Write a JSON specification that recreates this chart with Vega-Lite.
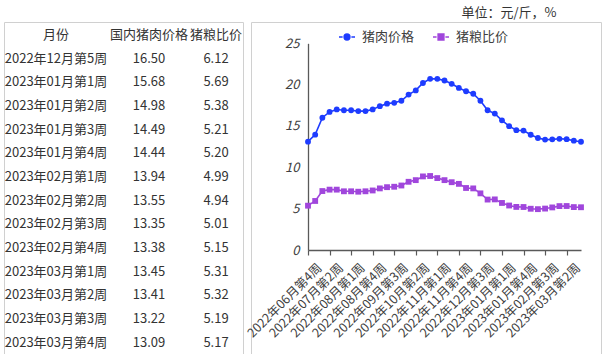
{
  "$schema": "https://vega.github.io/schema/vega-lite/v6.json",
  "padding": {"left": 3, "top": 5, "right": 2, "bottom": 0},
  "spacing": 8,
  "bounds": "flush",
  "background": "white",
  "config": {
    "view": {"stroke": "#d0d0d0", "strokeWidth": 1},
    "font": "Noto Sans CJK SC",
    "text": {"font": "Noto Sans CJK SC"}
  },
  "datasets": {
    "weekly": [
      {"周": "2022年06月第4周", "猪肉价格": 13.1, "猪粮比价": 5.36},
      {"周": "2022年06月第5周", "猪肉价格": 13.95, "猪粮比价": 5.93},
      {"周": "2022年07月第1周", "猪肉价格": 16.0, "猪粮比价": 7.13},
      {"周": "2022年07月第2周", "猪肉价格": 16.7, "猪粮比价": 7.3},
      {"周": "2022年07月第3周", "猪肉价格": 17.0, "猪粮比价": 7.3},
      {"周": "2022年07月第4周", "猪肉价格": 16.9, "猪粮比价": 7.1},
      {"周": "2022年08月第1周", "猪肉价格": 16.9, "猪粮比价": 7.1},
      {"周": "2022年08月第2周", "猪肉价格": 16.8, "猪粮比价": 7.05},
      {"周": "2022年08月第3周", "猪肉价格": 16.8, "猪粮比价": 7.1},
      {"周": "2022年08月第4周", "猪肉价格": 17.0, "猪粮比价": 7.2},
      {"周": "2022年09月第1周", "猪肉价格": 17.4, "猪粮比价": 7.45},
      {"周": "2022年09月第2周", "猪肉价格": 17.7, "猪粮比价": 7.6},
      {"周": "2022年09月第3周", "猪肉价格": 17.8, "猪粮比价": 7.65},
      {"周": "2022年09月第4周", "猪肉价格": 18.05, "猪粮比价": 7.8},
      {"周": "2022年10月第1周", "猪肉价格": 18.8, "猪粮比价": 8.25},
      {"周": "2022年10月第2周", "猪肉价格": 19.3, "猪粮比价": 8.45},
      {"周": "2022年10月第3周", "猪肉价格": 20.2, "猪粮比价": 8.9},
      {"周": "2022年10月第4周", "猪肉价格": 20.7, "猪粮比价": 8.95},
      {"周": "2022年11月第1周", "猪肉价格": 20.7, "猪粮比价": 8.7},
      {"周": "2022年11月第2周", "猪肉价格": 20.5, "猪粮比价": 8.45},
      {"周": "2022年11月第3周", "猪肉价格": 20.1, "猪粮比价": 8.2},
      {"周": "2022年11月第4周", "猪肉价格": 19.6, "猪粮比价": 8.0},
      {"周": "2022年12月第1周", "猪肉价格": 19.2, "猪粮比价": 7.5},
      {"周": "2022年12月第2周", "猪肉价格": 18.9, "猪粮比价": 7.45},
      {"周": "2022年12月第3周", "猪肉价格": 18.05, "猪粮比价": 6.85},
      {"周": "2022年12月第4周", "猪肉价格": 16.9, "猪粮比价": 6.1},
      {"周": "2022年12月第5周", "猪肉价格": 16.50, "猪粮比价": 6.12},
      {"周": "2023年01月第1周", "猪肉价格": 15.68, "猪粮比价": 5.69},
      {"周": "2023年01月第2周", "猪肉价格": 14.98, "猪粮比价": 5.38},
      {"周": "2023年01月第3周", "猪肉价格": 14.49, "猪粮比价": 5.21},
      {"周": "2023年01月第4周", "猪肉价格": 14.44, "猪粮比价": 5.20},
      {"周": "2023年02月第1周", "猪肉价格": 13.94, "猪粮比价": 4.99},
      {"周": "2023年02月第2周", "猪肉价格": 13.55, "猪粮比价": 4.94},
      {"周": "2023年02月第3周", "猪肉价格": 13.35, "猪粮比价": 5.01},
      {"周": "2023年02月第4周", "猪肉价格": 13.38, "猪粮比价": 5.15},
      {"周": "2023年03月第1周", "猪肉价格": 13.45, "猪粮比价": 5.31},
      {"周": "2023年03月第2周", "猪肉价格": 13.41, "猪粮比价": 5.32},
      {"周": "2023年03月第3周", "猪肉价格": 13.22, "猪粮比价": 5.19},
      {"周": "2023年03月第4周", "猪肉价格": 13.09, "猪粮比价": 5.17}
    ]
  },
  "hconcat": [
    {
      "width": 239,
      "height": 332,
      "data": {"name": "weekly"},
      "transform": [
        {"filter": {"field": "周", "oneOf": ["2022年12月第5周", "2023年01月第1周", "2023年01月第2周", "2023年01月第3周", "2023年01月第4周", "2023年02月第1周", "2023年02月第2周", "2023年02月第3周", "2023年02月第4周", "2023年03月第1周", "2023年03月第2周", "2023年03月第3周", "2023年03月第4周"]}}
      ],
      "encoding": {
        "y": {
          "field": "周",
          "type": "nominal",
          "scale": {
            "type": "point",
            "padding": 0,
            "domain": ["月份", "2022年12月第5周", "2023年01月第1周", "2023年01月第2周", "2023年01月第3周", "2023年01月第4周", "2023年02月第1周", "2023年02月第2周", "2023年02月第3周", "2023年02月第4周", "2023年03月第1周", "2023年03月第2周", "2023年03月第3周", "2023年03月第4周"],
            "range": [13, 320.7]
          },
          "axis": null
        }
      },
      "layer": [
        {
          "mark": {"type": "text", "fontSize": 13, "color": "#333333"},
          "encoding": {
            "x": {"datum": "月份", "type": "nominal", "scale": {"type": "point", "padding": 0, "domain": ["月份", "国内猪肉价格", "猪粮比价"], "range": [52, 212]}, "axis": null},
            "text": {"field": "周", "type": "nominal"}
          }
        },
        {
          "mark": {"type": "text", "fontSize": 13, "color": "#333333", "dx": 13},
          "encoding": {
            "x": {"datum": "国内猪肉价格", "type": "nominal"},
            "text": {"field": "猪肉价格", "type": "quantitative", "format": ".2f"}
          }
        },
        {
          "mark": {"type": "text", "fontSize": 13, "color": "#333333"},
          "encoding": {
            "x": {"datum": "猪粮比价", "type": "nominal"},
            "text": {"field": "猪粮比价", "type": "quantitative", "format": ".2f"}
          }
        },
        {
          "data": {"values": [{"列": "月份"}, {"列": "猪粮比价"}]},
          "mark": {"type": "text", "fontSize": 13, "color": "#333333"},
          "encoding": {
            "x": {"field": "列", "type": "nominal"},
            "y": {"datum": "月份", "type": "nominal"},
            "text": {"field": "列", "type": "nominal"}
          }
        },
        {
          "data": {"values": [{"列": "国内猪肉价格"}]},
          "mark": {"type": "text", "fontSize": 13, "color": "#333333", "dx": 13},
          "encoding": {
            "x": {"field": "列", "type": "nominal"},
            "y": {"datum": "月份", "type": "nominal"},
            "text": {"field": "列", "type": "nominal"}
          }
        }
      ]
    },
    {
      "width": 350,
      "height": 332,
      "data": {"name": "weekly"},
      "transform": [{"fold": ["猪肉价格", "猪粮比价"], "as": ["系列", "值"]}],
      "encoding": {
        "x": {
          "field": "周",
          "type": "ordinal",
          "sort": null,
          "scale": {
            "type": "point",
            "padding": 0,
            "range": [57, 330],
            "domain": ["2022年06月第4周", "2022年06月第5周", "2022年07月第1周", "2022年07月第2周", "2022年07月第3周", "2022年07月第4周", "2022年08月第1周", "2022年08月第2周", "2022年08月第3周", "2022年08月第4周", "2022年09月第1周", "2022年09月第2周", "2022年09月第3周", "2022年09月第4周", "2022年10月第1周", "2022年10月第2周", "2022年10月第3周", "2022年10月第4周", "2022年11月第1周", "2022年11月第2周", "2022年11月第3周", "2022年11月第4周", "2022年12月第1周", "2022年12月第2周", "2022年12月第3周", "2022年12月第4周", "2022年12月第5周", "2023年01月第1周", "2023年01月第2周", "2023年01月第3周", "2023年01月第4周", "2023年02月第1周", "2023年02月第2周", "2023年02月第3周", "2023年02月第4周", "2023年03月第1周", "2023年03月第2周", "2023年03月第3周", "2023年03月第4周"]
          },
          "axis": {
            "title": null,
            "orient": "bottom",
            "offset": -104,
            "values": ["2022年06月第4周", "2022年07月第2周", "2022年08月第1周", "2022年08月第4周", "2022年09月第3周", "2022年10月第2周", "2022年11月第1周", "2022年11月第4周", "2022年12月第3周", "2023年01月第1周", "2023年01月第4周", "2023年02月第3周", "2023年03月第2周"],
            "domainColor": "#595959",
            "domainWidth": 1.3,
            "tickColor": "#595959",
            "tickWidth": 1.2,
            "tickSize": 5,
            "labelAngle": -45,
            "labelAlign": "right",
            "labelBaseline": "top",
            "labelOffset": 7,
            "labelPadding": 6,
            "labelFontSize": 12.5,
            "labelColor": "#404040",
            "labelFont": "Noto Sans CJK SC",
            "labelOverlap": false,
            "labelBound": false,
            "grid": false
          }
        },
        "y": {
          "field": "值",
          "type": "quantitative",
          "scale": {"domain": [0, 25], "range": [228, 21.3], "nice": false},
          "axis": {
            "title": "单位：元/斤，%",
            "titleAngle": 0,
            "titleX": 248,
            "titleY": -10,
            "titleAlign": "right",
            "titleBaseline": "middle",
            "titleFontWeight": "normal",
            "titleFontSize": 13,
            "titleColor": "#333333",
            "titleFont": "Noto Sans CJK SC",
            "offset": -57,
            "values": [0, 5, 10, 15, 20, 25],
            "ticks": false,
            "tickSize": 0,
            "domainColor": "#595959",
            "domainWidth": 1.3,
            "labelFontStyle": "italic",
            "labelFontSize": 13,
            "labelColor": "#404040",
            "labelPadding": 9,
            "labelFont": "Noto Sans CJK SC",
            "grid": false
          }
        }
      },
      "layer": [
        {
          "transform": [{"filter": {"field": "系列", "equal": "猪肉价格"}}],
          "mark": {"type": "line", "strokeWidth": 1.6, "color": "#1E3CFF"}
        },
        {
          "transform": [{"filter": {"field": "系列", "equal": "猪粮比价"}}],
          "mark": {"type": "line", "strokeWidth": 1.6, "color": "#A046DC"}
        },
        {
          "transform": [{"filter": {"field": "系列", "equal": "猪肉价格"}}],
          "mark": {"type": "point", "shape": "circle", "filled": true, "size": 34, "opacity": 1, "color": "#1E3CFF"}
        },
        {
          "transform": [{"filter": {"field": "系列", "equal": "猪粮比价"}}],
          "mark": {"type": "point", "shape": "square", "filled": true, "size": 34, "opacity": 1, "color": "#A046DC"}
        },
        {
          "transform": [{"filter": "false"}],
          "mark": {"type": "point", "filled": true, "opacity": 1, "strokeWidth": 1.5},
          "encoding": {
            "fill": {
              "field": "系列", "type": "nominal",
              "scale": {"domain": ["猪肉价格", "猪粮比价"], "range": ["#1E3CFF", "#A046DC"]},
              "legend": {"title": null, "orient": "none", "legendX": 334, "legendY": 6, "direction": "horizontal", "labelFontSize": 13, "labelColor": "#404040", "labelFont": "Noto Sans CJK SC", "symbolSize": 256, "symbolStrokeWidth": 1.5, "symbolOpacity": 1, "columnPadding": 15, "labelOffset": 6, "padding": 0}
            },
            "stroke": {
              "field": "系列", "type": "nominal",
              "scale": {"domain": ["猪肉价格", "猪粮比价"], "range": ["#1E3CFF", "#A046DC"]}
            },
            "shape": {
              "field": "系列", "type": "nominal",
              "scale": {"domain": ["猪肉价格", "猪粮比价"], "range": ["M-1,0H-0.55M0.55,0H1M0.36,0A0.36,0.36,0,1,1,-0.36,0A0.36,0.36,0,1,1,0.36,0Z", "M-1,0H-0.55M0.55,0H1M-0.36,-0.36H0.36V0.36H-0.36Z"]}
            }
          }
        }
      ]
    }
  ]
}
